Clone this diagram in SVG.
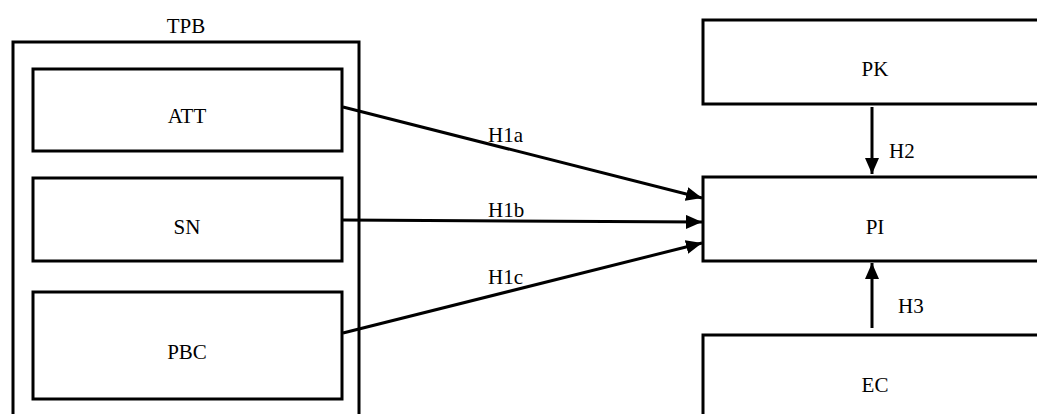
<svg xmlns="http://www.w3.org/2000/svg" width="1037" height="414" viewBox="0 0 1037 414">
<style>
.box{fill:none;stroke:#000;stroke-width:3}
.lbl{font-family:"Liberation Serif","DejaVu Serif",serif;font-size:21px;fill:#000;text-anchor:middle}
.hl{font-family:"Liberation Serif","DejaVu Serif",serif;font-size:21px;fill:#000}
.con{stroke:#000;stroke-width:3;fill:none;marker-end:url(#ah)}
</style>
<defs>
<marker id="ah" markerUnits="userSpaceOnUse" markerWidth="16" markerHeight="14" refX="16" refY="7" orient="auto">
<path d="M0,0 L16,7 L0,14 Z" fill="#000"/>
</marker>
</defs>
<rect width="1037" height="414" fill="#fff"/>
<g id="TPB">
<rect class="box" x="13" y="42" width="346" height="390"/>
<text class="lbl" x="186" y="33">TPB</text>
</g>
<g id="ATT">
<rect class="box" x="33" y="69" width="309" height="82"/>
<text class="lbl" x="187" y="123">ATT</text>
</g>
<g id="SN">
<rect class="box" x="33" y="178" width="309" height="83"/>
<text class="lbl" x="187" y="234">SN</text>
</g>
<g id="PBC">
<rect class="box" x="33" y="292" width="309" height="107"/>
<text class="lbl" x="187" y="359">PBC</text>
</g>
<g id="PK">
<rect class="box" x="703" y="20" width="350" height="84"/>
<text class="lbl" x="875" y="76">PK</text>
</g>
<g id="PI">
<rect class="box" x="703" y="177" width="350" height="84"/>
<text class="lbl" x="875" y="234">PI</text>
</g>
<g id="EC">
<rect class="box" x="703" y="335" width="350" height="100"/>
<text class="lbl" x="875" y="392">EC</text>
</g>
<g id="connectors">
<line class="con" x1="343" y1="107" x2="702" y2="198"/>
<line class="con" x1="343" y1="220" x2="702" y2="222"/>
<line class="con" x1="343" y1="333" x2="702" y2="243"/>
<line class="con" x1="872" y1="107" x2="872" y2="174"/>
<line class="con" x1="872" y1="328" x2="872" y2="263"/>
<text class="hl" x="488" y="142">H1a</text>
<text class="hl" x="488" y="217">H1b</text>
<text class="hl" x="488" y="284">H1c</text>
<text class="hl" x="889" y="158">H2</text>
<text class="hl" x="898" y="313">H3</text>
</g>
</svg>
